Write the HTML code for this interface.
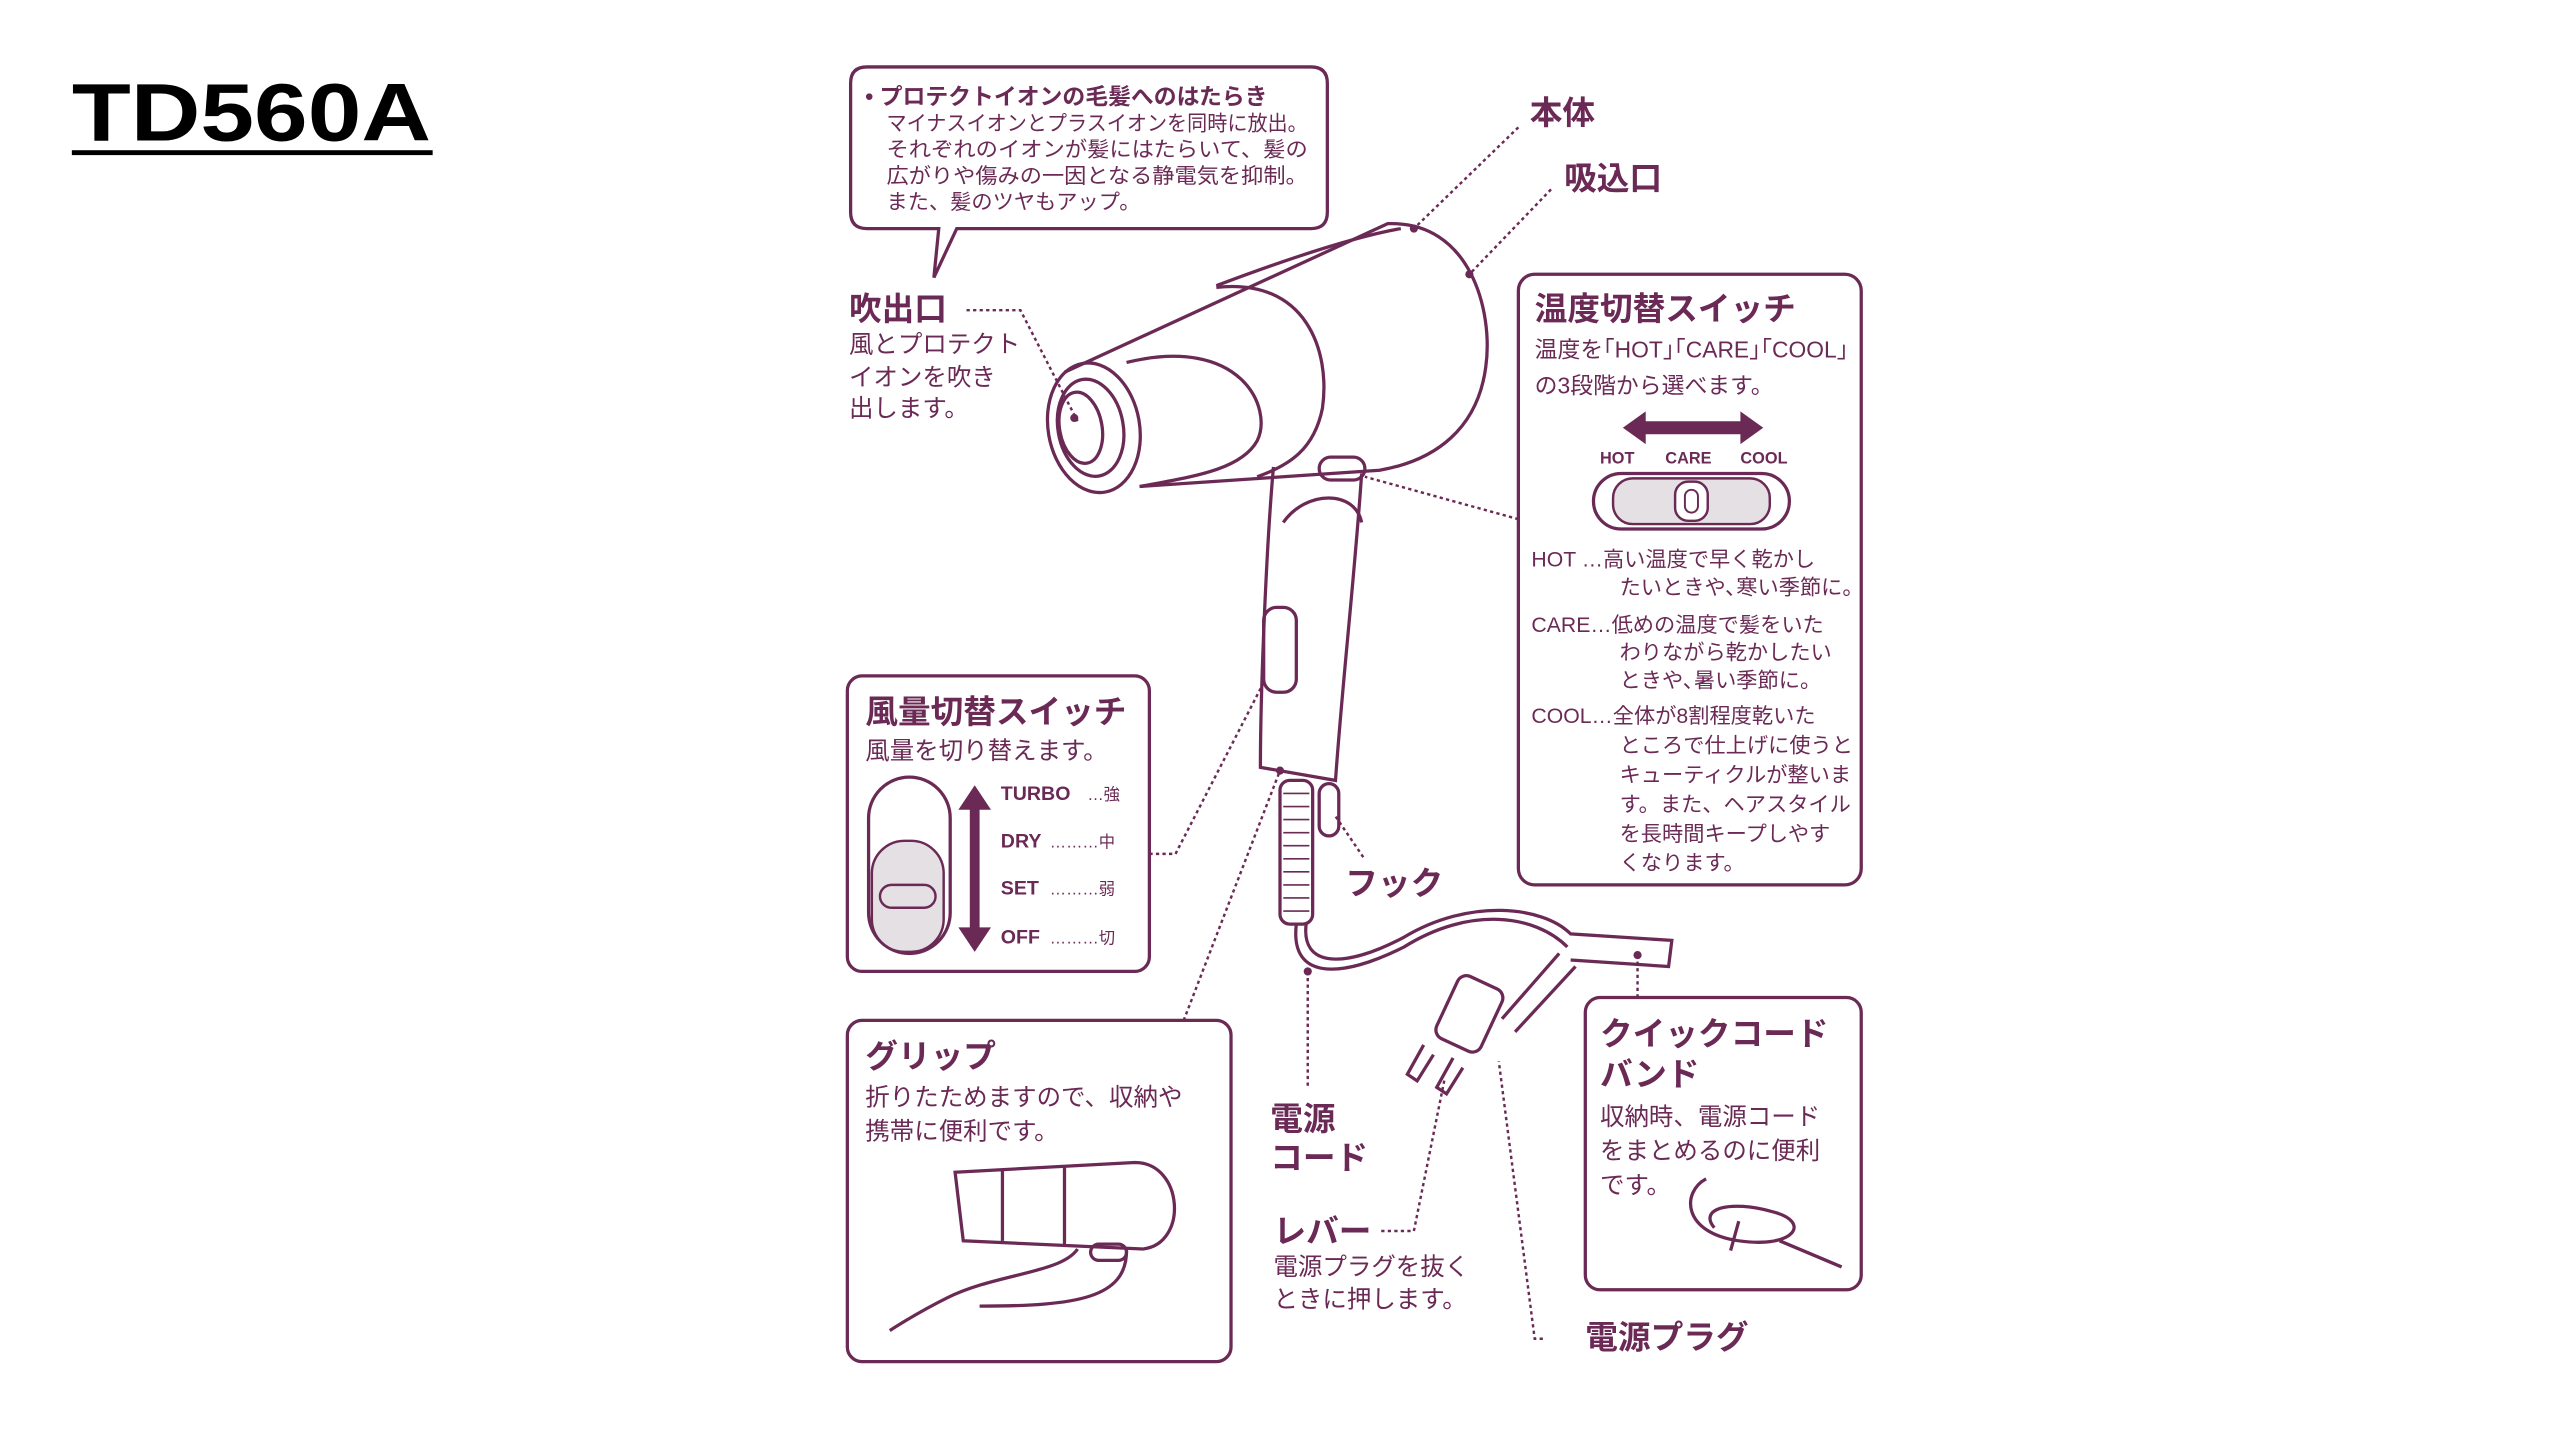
<!DOCTYPE html>
<html><head><meta charset="utf-8"><style>
html,body{margin:0;padding:0;background:#fff;}
svg{display:block;}
text{font-family:"Liberation Sans","Noto Sans CJK JP",sans-serif;fill:#6b2a55;}
</style></head><body>
<svg width="2560" height="1440" viewBox="0 0 1568 882" xmlns="http://www.w3.org/2000/svg">
<text x="44" y="86" style="fill:#000;font-weight:bold;font-size:50px;" textLength="220" lengthAdjust="spacingAndGlyphs">TD560A</text>
<rect x="44" y="92" width="221" height="3" fill="#000"/>
<g fill="none" stroke="#6b2a55" stroke-width="2">
<path d="M531,41 H803 Q813,41 813,51 V130 Q813,140 803,140 H586 L572,170 L575,140 H531 Q521,140 521,130 V51 Q521,41 531,41 Z"/>
<rect x="930" y="168" width="210" height="374" rx="10"/>
<rect x="519" y="414" width="185" height="181" rx="9"/>
<rect x="519" y="625" width="235" height="209" rx="9"/>
<rect x="971" y="611" width="169" height="179" rx="9"/>
</g>
<text x="530" y="64" font-size="14" font-weight="bold">• プロテクトイオンの毛髪へのはたらき</text>
<g font-size="13">
<text x="543" y="80" textLength="258" lengthAdjust="spacingAndGlyphs">マイナスイオンとプラスイオンを同時に放出。</text>
<text x="543" y="96" textLength="258" lengthAdjust="spacingAndGlyphs">それぞれのイオンが髪にはたらいて、髪の</text>
<text x="543" y="112" textLength="258" lengthAdjust="spacingAndGlyphs">広がりや傷みの一因となる静電気を抑制。</text>
<text x="543" y="128">また、髪のツヤもアップ。</text>
</g>
<text x="937" y="76" font-size="20" font-weight="bold">本体</text>
<text x="958" y="116" font-size="20" font-weight="bold">吸込口</text>
<text x="520" y="196" font-size="20" font-weight="bold">吹出口</text>
<g font-size="15"><text x="520" y="216">風とプロテクト</text><text x="520" y="236">イオンを吹き</text><text x="520" y="255">出します。</text></g>
<text x="940" y="196" font-size="20" font-weight="bold">温度切替スイッチ</text>
<g font-size="14"><text x="940" y="219">温度を｢HOT｣｢CARE｣｢COOL｣</text><text x="940" y="241">の3段階から選べます。</text></g>
<path d="M994,262 L1008,252 V258 H1066 V252 L1080,262 L1066,272 V266 H1008 V272 Z" fill="#6b2a55"/>
<g font-size="10" font-weight="bold"><text x="980" y="284">HOT</text><text x="1020" y="284">CARE</text><text x="1066" y="284">COOL</text></g>
<rect x="976" y="290" width="120" height="34" rx="17" fill="none" stroke="#6b2a55" stroke-width="2"/>
<rect x="988" y="293" width="96" height="28" rx="12" fill="#e4e0e3" stroke="#6b2a55" stroke-width="1.5"/>
<rect x="1026" y="295" width="20" height="24" rx="8" fill="#fff" stroke="#6b2a55" stroke-width="1.5"/>
<rect x="1032" y="300" width="8" height="14" rx="4" fill="none" stroke="#6b2a55" stroke-width="1.2"/>
<g font-size="13">
<text x="938" y="347">HOT …高い温度で早く乾かし</text><text x="992" y="364">たいときや､寒い季節に。</text>
<text x="938" y="387">CARE…低めの温度で髪をいた</text><text x="992" y="404">わりながら乾かしたい</text><text x="992" y="421">ときや､暑い季節に。</text>
<text x="938" y="443">COOL…全体が8割程度乾いた</text><text x="992" y="461">ところで仕上げに使うと</text><text x="992" y="479">キューティクルが整いま</text><text x="992" y="497">す。また、ヘアスタイル</text><text x="992" y="515">を長時間キープしやす</text><text x="992" y="533">くなります。</text>
</g>
<text x="530" y="443" font-size="20" font-weight="bold">風量切替スイッチ</text>
<text x="530" y="465" font-size="15">風量を切り替えます。</text>
<rect x="532" y="476" width="50" height="108" rx="25" fill="none" stroke="#6b2a55" stroke-width="2"/>
<rect x="534" y="515" width="44" height="68" rx="20" fill="#e4e0e3" stroke="#6b2a55" stroke-width="1.5"/>
<rect x="539" y="542" width="34" height="14" rx="7" fill="none" stroke="#6b2a55" stroke-width="1.5"/>
<path d="M597,481 L607,496 H600 V568 H607 L597,583 L587,568 H594 V496 H587 Z" fill="#6b2a55"/>
<g font-size="12" font-weight="bold"><text x="613" y="490">TURBO</text><text x="613" y="519">DRY</text><text x="613" y="548">SET</text><text x="613" y="578">OFF</text></g>
<g font-size="10"><text x="666" y="490">…強</text><text x="643" y="519">………中</text><text x="643" y="548">………弱</text><text x="643" y="578">………切</text></g>
<text x="530" y="654" font-size="20" font-weight="bold">グリップ</text>
<g font-size="15"><text x="530" y="677">折りたためますので、収納や</text><text x="530" y="698">携帯に便利です。</text></g>
<text x="980" y="640" font-size="20" font-weight="bold">クイックコード</text>
<text x="980" y="665" font-size="20" font-weight="bold">バンド</text>
<g font-size="15"><text x="980" y="689">収納時、電源コード</text><text x="980" y="710">をまとめるのに便利</text><text x="980" y="731">です。</text></g>
<text x="824" y="548" font-size="20" font-weight="bold">フック</text>
<text x="778" y="692" font-size="20" font-weight="bold">電源</text>
<text x="778" y="716" font-size="20" font-weight="bold">コード</text>
<text x="780" y="761" font-size="20" font-weight="bold">レバー</text>
<g font-size="15"><text x="780" y="781">電源プラグを抜く</text><text x="780" y="801">ときに押します。</text></g>
<text x="971" y="826" font-size="20" font-weight="bold">電源プラグ</text>
<g fill="none" stroke="#6b2a55" stroke-width="2">
<path d="M652,228 L850,137 C900,135 915,190 910,225 C905,262 880,282 845,288 L698,298"/>
<path d="M745,175 C790,158 830,145 858,140"/>
<ellipse cx="670" cy="262" rx="28" ry="40" transform="rotate(-10 670 262)"/>
<ellipse cx="668" cy="262" rx="20" ry="30" transform="rotate(-10 668 262)"/>
<ellipse cx="662" cy="262" rx="13" ry="22" transform="rotate(-10 662 262)"/>
<path d="M690,222 C760,205 780,250 770,270 C760,288 730,292 698,298"/>
<path d="M745,176 C800,170 815,215 810,250 C805,275 790,285 770,292"/>
<path d="M780,286 C776,330 772,420 772,470 L818,478 C822,420 830,350 834,290"/>
<path d="M786,320 C800,300 830,300 834,320"/>
<rect x="774" y="372" width="20" height="52" rx="8"/>
<rect x="808" y="280" width="28" height="14" rx="7"/>
<rect x="784" y="478" width="20" height="88" rx="6"/>
<path d="M786,486 H802 M786,494 H802 M786,502 H802 M786,510 H802 M786,518 H802 M786,526 H802 M786,534 H802 M786,542 H802 M786,550 H802 M786,558 H802" stroke-width="1"/>
<rect x="808" y="480" width="12" height="32" rx="6"/>
<path d="M794,566 C790,600 820,600 860,580 C900,555 940,560 960,580"/>
<path d="M800,566 C797,592 822,594 860,574 C900,550 945,555 962,572 L1024,576 L1022,592 L962,588"/>
<path d="M955,584 L920,624 M965,592 L928,632"/>
<rect x="885" y="600" width="30" height="42" rx="6" transform="rotate(25 900 621)"/>
<path d="M872,640 L862,658 L868,662 L878,646 M890,648 L880,666 L886,670 L896,654"/>
<path d="M585,718 L695,712 C725,712 728,762 700,765 L590,760 Z M614,717 V760 M652,714 V763"/>
<path d="M660,765 C650,780 610,780 580,795 C560,805 545,815 545,815 M690,766 C690,795 660,800 600,800"/>
<rect x="668" y="762" width="22" height="10" rx="5"/>
<path d="M1045,722 C1030,730 1030,755 1065,760 C1100,765 1110,748 1085,742 C1060,735 1040,740 1050,752 M1065,748 L1060,766 M1090,760 L1128,776"/>
</g>
<g fill="none" stroke="#6b2a55" stroke-width="1.5" stroke-dasharray="2,2">
<path d="M930,78 L866,140"/>
<path d="M950,116 L900,168"/>
<path d="M592,190 H625 L660,258"/>
<path d="M930,318 L836,292"/>
<path d="M704,523 H720 L773,420"/>
<path d="M725,625 L784,472"/>
<path d="M835,525 L818,500"/>
<path d="M801,595 V665"/>
<path d="M846,754 H866 L885,660"/>
<path d="M945,820 H940 L918,650"/>
<path d="M1003,611 V585"/>
</g>
<g fill="#6b2a55"><circle cx="866" cy="140" r="2.5"/><circle cx="900" cy="168" r="2.5"/><circle cx="658" cy="256" r="2.5"/><circle cx="784" cy="472" r="2.5"/><circle cx="1003" cy="585" r="2.5"/><circle cx="801" cy="595" r="2.5"/></g>
</svg>
</body></html>
